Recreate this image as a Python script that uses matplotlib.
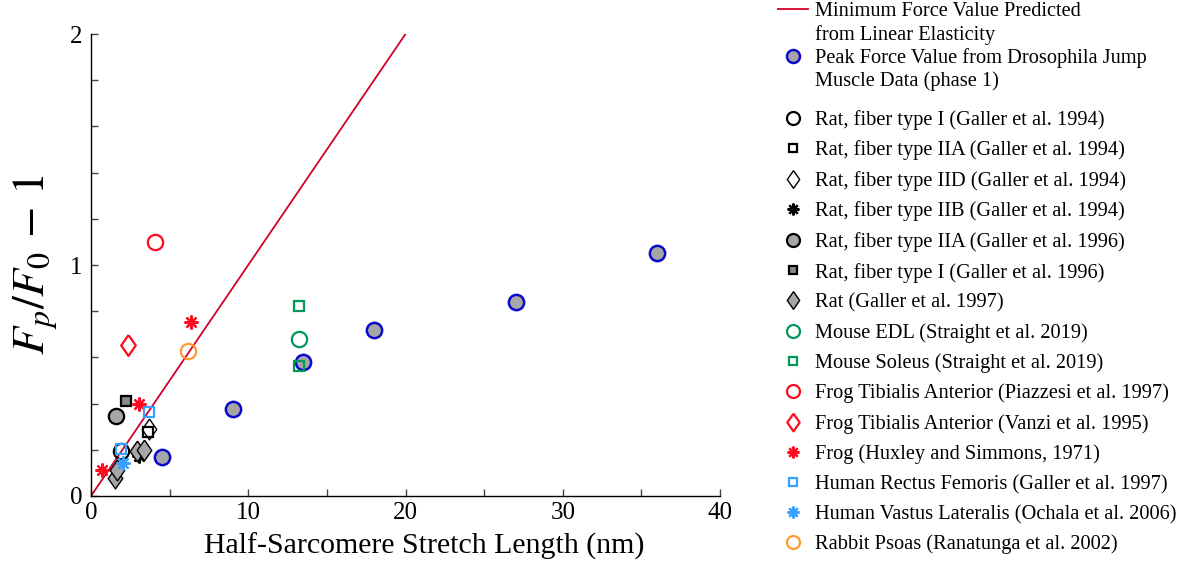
import matplotlib
matplotlib.use("Agg")
import matplotlib.pyplot as plt
from matplotlib.lines import Line2D
import numpy as np

plt.rcParams['font.family'] = ['Liberation Serif', 'DejaVu Serif']
plt.rcParams['mathtext.fontset'] = 'stix'

# stretch length (nm) vs normalised peak force F_p/F_0 - 1
dros_x = [4.5, 9.0, 13.5, 18.0, 27.0, 36.0]
dros_y = [0.17, 0.375, 0.58, 0.72, 0.84, 1.05]

rat_I_94_x = [1.9]
rat_I_94_y = [0.195]
rat_IIA_94_x = [3.65]
rat_IIA_94_y = [0.278]
rat_IID_94_x = [3.7]
rat_IID_94_y = [0.289]
rat_IIB_94_x = [3.05]
rat_IIB_94_y = [0.174]
rat_IIA_96_x = [1.6]
rat_IIA_96_y = [0.346]
rat_I_96_x = [2.25]
rat_I_96_y = [0.413]
rat_97_x = [1.55, 1.63, 2.9, 3.35]
rat_97_y = [0.077, 0.113, 0.195, 0.199]
mouse_edl_x = [13.2]
mouse_edl_y = [0.68]
mouse_sol_x = [13.2, 13.2]
mouse_sol_y = [0.821, 0.561]
frog_ta_p_x = [4.1]
frog_ta_p_y = [1.098]
frog_ta_v_x = [2.35]
frog_ta_v_y = [0.652]
frog_hs_x = [0.7, 3.05, 6.35]
frog_hs_y = [0.113, 0.398, 0.753]
human_rf_x = [1.9, 3.7]
human_rf_y = [0.203, 0.362]
human_vl_x = [2.05]
human_vl_y = [0.144]
rabbit_x = [6.2]
rabbit_y = [0.628]

# linear elasticity prediction
lin_x = [0, 20]
lin_y = [0, 2]

red = '#ff0a1e'
green = '#00995a'
lblue = '#3aa0ff'
orange = '#ff9a30'
gray = '#a6a6a6'
dgray = '#888888'
asterisk = (8, 2, 0)
diamond = [(0, 1), (0.7, 0), (0, -1), (-0.7, 0), (0, 1)]

fig = plt.figure(figsize=(11.9, 5.67), dpi=100)
ax = fig.add_axes([91 / 1190, 71 / 567, 629 / 1190, 462 / 567])

hl, = ax.plot(lin_x, lin_y, color='#d4002a', lw=1.3)

h = {}
h['dros'], = ax.plot(dros_x, dros_y, 'o', ms=11, mfc=gray, mec='#0a0acd', mew=1.8)
h['r1'], = ax.plot(rat_I_94_x, rat_I_94_y, 'o', ms=11, mfc='none', mec='k', mew=1.6)
h['r2'], = ax.plot(rat_IIA_94_x, rat_IIA_94_y, 's', ms=7, mfc='none', mec='k', mew=1.6)
h['r3'], = ax.plot(rat_IID_94_x, rat_IID_94_y, marker=diamond, ls='none', ms=15, mfc='none', mec='k', mew=1.0)
h['r4'], = ax.plot(rat_IIB_94_x, rat_IIB_94_y, marker=asterisk, ls='none', ms=10, mec='k', mew=1.6)
h['r5'], = ax.plot(rat_IIA_96_x, rat_IIA_96_y, 'o', ms=11, mfc=gray, mec='k', mew=1.6)
h['r6'], = ax.plot(rat_I_96_x, rat_I_96_y, 's', ms=7, mfc=dgray, mec='k', mew=1.6)
h['r7'], = ax.plot(rat_97_x, rat_97_y, marker=diamond, ls='none', ms=15, mfc=gray, mec='k', mew=1.0)
h['m1'], = ax.plot(mouse_edl_x, mouse_edl_y, 'o', ms=11, mfc='none', mec=green, mew=1.6)
h['m2'], = ax.plot(mouse_sol_x, mouse_sol_y, 's', ms=7, mfc='none', mec=green, mew=1.6)
h['f1'], = ax.plot(frog_ta_p_x, frog_ta_p_y, 'o', ms=11, mfc='none', mec=red, mew=1.6)
h['f2'], = ax.plot(frog_ta_v_x, frog_ta_v_y, marker=diamond, ls='none', ms=15, mfc='none', mec=red, mew=1.6)
h['f3'], = ax.plot(frog_hs_x, frog_hs_y, marker=asterisk, ls='none', ms=10, mec=red, mew=1.6)
h['h1'], = ax.plot(human_rf_x, human_rf_y, 's', ms=7, mfc='none', mec=lblue, mew=1.6)
h['h2'], = ax.plot(human_vl_x, human_vl_y, marker=asterisk, ls='none', ms=10, mec=lblue, mew=1.6)
h['rb'], = ax.plot(rabbit_x, rabbit_y, 'o', ms=11, mfc='none', mec=orange, mew=1.6)

ax.set_xlim(0, 40)
ax.set_ylim(0, 2)
ax.set_xticks(np.arange(0, 41, 5))
ax.set_xticklabels(['0', '', '10', '', '20', '', '30', '', '40'])
ax.set_yticks(np.arange(0, 2.01, 0.2))
ax.set_yticklabels(['0', '', '', '', '', '1', '', '', '', '', '2'])
ax.tick_params(direction='in', length=5, width=1, labelsize=18, colors='#444444',
               labelcolor='k')
ax.tick_params(axis='x', pad=4)
ax.tick_params(axis='y', pad=6)
for s in ['top', 'right']:
    ax.spines[s].set_visible(False)
for s in ['left', 'bottom']:
    ax.spines[s].set_linewidth(1)

ax.set_xlabel('Half-Sarcomere Stretch Length (nm)', fontsize=21.5)
ax.xaxis.set_label_coords(0.53, -0.079)
ax.set_ylabel(r'$F_p/F_0\,-\,1$', fontsize=33)
ax.yaxis.set_label_coords(-0.05, 0.5)

blank = Line2D([], [], ls='none', marker=None)
top_handles = [hl, blank, h['dros'], blank]
top_labels = ['Minimum Force Value Predicted', 'from Linear Elasticity',
              'Peak Force Value from Drosophila Jump', 'Muscle Data (phase 1)']
leg1 = fig.legend(top_handles, top_labels, loc='upper left',
                  bbox_to_anchor=(778 / 1190, 1 - 2 / 567), frameon=False, fontsize=14.7,
                  handlelength=1.45, handletextpad=0.35, labelspacing=0.17,
                  borderpad=0.0, borderaxespad=0.0, markerscale=0.85)

names = ['Rat, fiber type I (Galler et al. 1994)',
         'Rat, fiber type IIA (Galler et al. 1994)',
         'Rat, fiber type IID (Galler et al. 1994)',
         'Rat, fiber type IIB (Galler et al. 1994)',
         'Rat, fiber type IIA (Galler et al. 1996)',
         'Rat, fiber type I (Galler et al. 1996)',
         'Rat (Galler et al. 1997)',
         'Mouse EDL (Straight et al. 2019)',
         'Mouse Soleus (Straight et al. 2019)',
         'Frog Tibialis Anterior (Piazzesi et al. 1997)',
         'Frog Tibialis Anterior (Vanzi et al. 1995)',
         'Frog (Huxley and Simmons, 1971)',
         'Human Rectus Femoris (Galler et al. 1997)',
         'Human Vastus Lateralis (Ochala et al. 2006)',
         'Rabbit Psoas (Ranatunga et al. 2002)']
keys = ['r1', 'r2', 'r3', 'r4', 'r5', 'r6', 'r7', 'm1', 'm2',
        'f1', 'f2', 'f3', 'h1', 'h2', 'rb']
leg2 = fig.legend([h[k] for k in keys], names, loc='upper left',
                  bbox_to_anchor=(778 / 1190, 1 - 110 / 567), frameon=False, fontsize=14.7,
                  handlelength=1.45, handletextpad=0.35, labelspacing=0.52,
                  borderpad=0.0, borderaxespad=0.0, markerscale=0.85)

fig.savefig('out.png', dpi=100)
